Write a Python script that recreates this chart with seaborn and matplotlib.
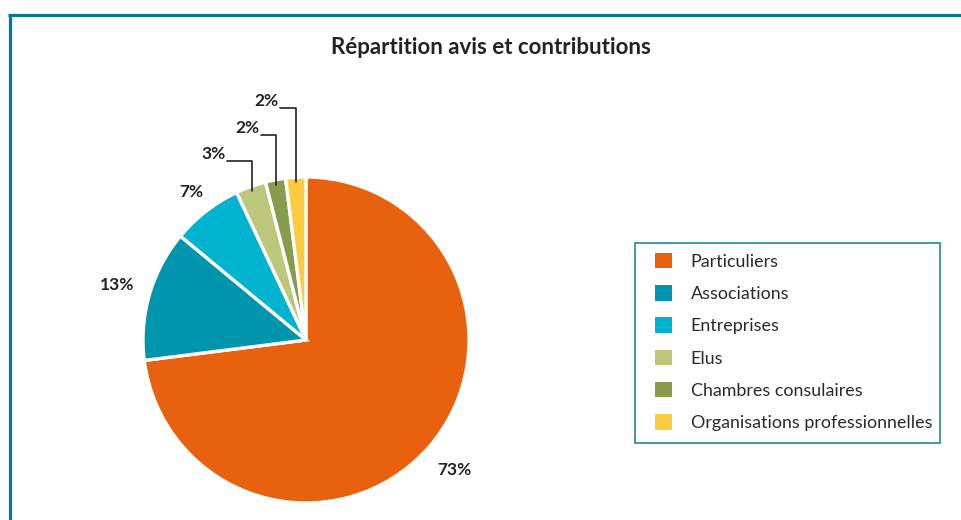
import numpy as np
import matplotlib
matplotlib.use("Agg")
import matplotlib.pyplot as plt
from matplotlib.patches import Rectangle
from matplotlib.lines import Line2D
import seaborn as sns

# data
categories = ["Particuliers", "Associations", "Entreprises", "Elus",
              "Chambres consulaires", "Organisations professionnelles"]
shares = [73, 13, 7, 3, 2, 2]
pct_labels = ["73%", "13%", "7%", "3%", "2%", "2%"]
colors = ["#E8610F", "#0095AD", "#00B3CF", "#BDC77B", "#889C4D", "#FDCB42"]

sns.set_theme(style="white")
plt.rcParams["font.family"] = ["Lato", "DejaVu Sans"]

W, H = 961, 520
fig = plt.figure(figsize=(W / 100, H / 100), dpi=100)
fig.patch.set_facecolor("white")

# pie axes: center (306, 340) px, radius 163 px
r_px = 163
cx, cy = 306, 340
ax = fig.add_axes([(cx - r_px) / W, (H - cy - r_px) / H, 2 * r_px / W, 2 * r_px / H])
wedges, _ = ax.pie(shares, colors=colors, startangle=90, counterclock=False,
                   wedgeprops=dict(edgecolor="white", linewidth=2.4))
ax.set_xlim(-1, 1)
ax.set_ylim(-1, 1)
ax.set_aspect("equal")
ax.axis("off")

txt_kw = dict(fontsize=12.5, fontweight="bold", color="#222222")

# big slices: label straight out from the wedge
label_dist = [1.21, 1.21, 1.15]
for w, lab, d in zip(wedges[:3], pct_labels[:3], label_dist):
    mid = np.deg2rad((w.theta1 + w.theta2) / 2)
    ax.text(d * np.cos(mid), d * np.sin(mid), lab, ha="center", va="center",
            clip_on=False, **txt_kw)

# small slices: elbow leader lines
elbow_y = [1.10, 1.258, 1.423]
elbow_len = [0.155, 0.095, 0.097]
for w, lab, ey, el in zip(wedges[3:], pct_labels[3:], elbow_y, elbow_len):
    mid = np.deg2rad((w.theta1 + w.theta2) / 2)
    x0, y0 = 0.97 * np.cos(mid), 0.97 * np.sin(mid)
    ax.add_line(Line2D([x0, x0, x0 - el], [y0, ey, ey], color="#222222",
                       linewidth=1.2, clip_on=False))
    ax.text(x0 - el - 0.01, ey - 0.005, lab, ha="right", va="bottom",
            clip_on=False, **txt_kw)

fig.text(491 / W, 1 - 48 / H, "Répartition avis et contributions",
         ha="center", va="center", fontsize=16, fontweight="bold", color="#222222")

# legend with its own frame
fig.patches.append(Rectangle((635 / W, 1 - 443 / H), 305 / W, 200 / H,
                             transform=fig.transFigure, fill=False,
                             edgecolor="#127C93", linewidth=1.1))
fig.legend(wedges, categories, loc="center left",
           bbox_to_anchor=(655 / W, 1 - 342 / H), frameon=False,
           fontsize=12.9, labelspacing=0.86, handlelength=0.95, handleheight=0.95,
           handletextpad=1.05, borderpad=0, borderaxespad=0,
           labelcolor="#2a2a2a")
for h in fig.legends[0].legend_handles:
    h.set_edgecolor("none")

# teal page border (top and left)
border = "#007A99"
fig.lines.append(Line2D([8 / W, 1], [1 - 15 / H, 1 - 15 / H], transform=fig.transFigure,
                        color=border, linewidth=2.3, solid_capstyle="butt"))
fig.lines.append(Line2D([9.5 / W, 9.5 / W], [1 - 14 / H, 0], transform=fig.transFigure,
                        color=border, linewidth=2.3, solid_capstyle="butt"))

fig.savefig("out.png", dpi=100, facecolor="white")
